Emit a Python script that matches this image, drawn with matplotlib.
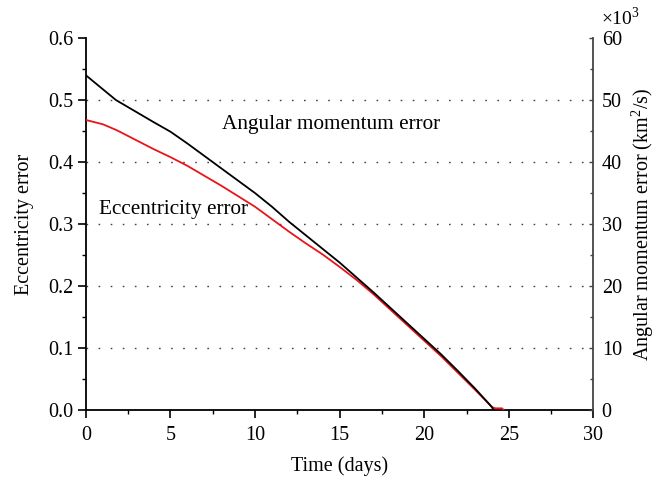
import matplotlib

matplotlib.use("Agg")
import matplotlib.pyplot as plt
from matplotlib.ticker import MultipleLocator

plt.rcParams["font.family"] = ["Liberation Serif", "DejaVu Serif"]
plt.rcParams["mathtext.fontset"] = "custom"
plt.rcParams["mathtext.rm"] = "Liberation Serif"

# eccentricity error (left axis)
t_ecc = [0, 1, 1.78, 2, 3, 4, 5, 6, 7, 8, 9, 10, 11, 12, 13, 14, 15, 16, 17,
         18, 19, 20, 21, 22, 23, 23.8, 24.0, 24.2, 24.6, 24.7]
ecc_err = [0.468, 0.461, 0.452, 0.449, 0.435, 0.421, 0.408, 0.394, 0.378,
           0.362, 0.345, 0.328, 0.308, 0.288, 0.269, 0.251, 0.231, 0.210,
           0.187, 0.162, 0.137, 0.112, 0.087, 0.060, 0.033, 0.011, 0.005,
           0.003, 0.003, 0.0]

# angular momentum error (right axis, x10^3 km^2/s)
t_h = [0, 1, 1.78, 2, 3, 4, 5, 6, 7, 8, 9, 10, 11, 12, 13, 14, 15, 16, 17,
       18, 19, 20, 21, 22, 23, 23.8, 24.0, 24.1]
h_err = [54.0, 51.75, 50.0, 49.65, 48.05, 46.45, 44.9, 43.0, 41.0, 39.0,
         37.0, 35.0, 32.8, 30.4, 28.2, 26.0, 23.8, 21.4, 19.0, 16.5, 14.0,
         11.5, 9.0, 6.3, 3.5, 1.1, 0.5, 0.0]

fig = plt.figure(figsize=(6.66, 4.82), dpi=100)
ax = fig.add_axes([0.129, 0.149, 0.762, 0.772])
ax2 = ax.twinx()

for y in [0.1, 0.2, 0.3, 0.4, 0.5]:
    ax.axhline(y, color="#444444", lw=1.0, ls=(0, (1.2, 7.5)), zorder=0)

ax.plot(t_ecc, ecc_err, color="#e8141a", lw=1.3, zorder=3)
ax2.plot(t_h, h_err, color="black", lw=1.3, zorder=3)

ax.set_xlim(0, 30)
ax.set_ylim(0, 0.6)
ax2.set_ylim(0, 60)
ax.xaxis.set_major_locator(MultipleLocator(5))
ax.xaxis.set_minor_locator(MultipleLocator(2.5))
ax.yaxis.set_major_locator(MultipleLocator(0.1))
ax.yaxis.set_minor_locator(MultipleLocator(0.05))
ax2.yaxis.set_major_locator(MultipleLocator(10))
ax2.yaxis.set_minor_locator(MultipleLocator(5))
ax.yaxis.set_major_formatter(plt.FormatStrFormatter("%.1f"))

for s in ["top", "right"]:
    ax.spines[s].set_visible(False)
for s in ["top", "left", "bottom"]:
    ax2.spines[s].set_visible(False)
ax.spines["left"].set_linewidth(1.3)
ax.spines["bottom"].set_linewidth(1.3)
ax2.spines["right"].set_linewidth(1.3)
ax2.spines["right"].set_color("#444444")

ax.tick_params(which="major", direction="out", length=5.5, width=1.2, labelsize=14.5)
ax.tick_params(axis="x", which="major", pad=6)
ax.tick_params(which="minor", direction="out", length=3, width=1.0)
ax2.tick_params(which="major", direction="in", length=3, width=1.0, labelsize=14.5,
                color="#444444", pad=6)
ax2.tick_params(which="minor", direction="in", length=2.5, width=1.0, color="#444444")

ax.set_xlabel("Time (days)", fontsize=14.5, labelpad=8)
ax.set_ylabel("Eccentricity error", fontsize=14.5, labelpad=10)
ax2.set_ylabel(r"Angular momentum error (km$^2$/s)", fontsize=14.5, labelpad=5)

ax.text(8.05, 0.46, "Angular momentum error", fontsize=15.3, va="center")
ax.text(0.75, 0.324, "Eccentricity error", fontsize=15.3, va="center")
ax2.text(1.015, 1.025, r"$\times$10$^3$", transform=ax2.transAxes, fontsize=14,
         ha="left", va="bottom")

fig.savefig("out.png", dpi=100)
